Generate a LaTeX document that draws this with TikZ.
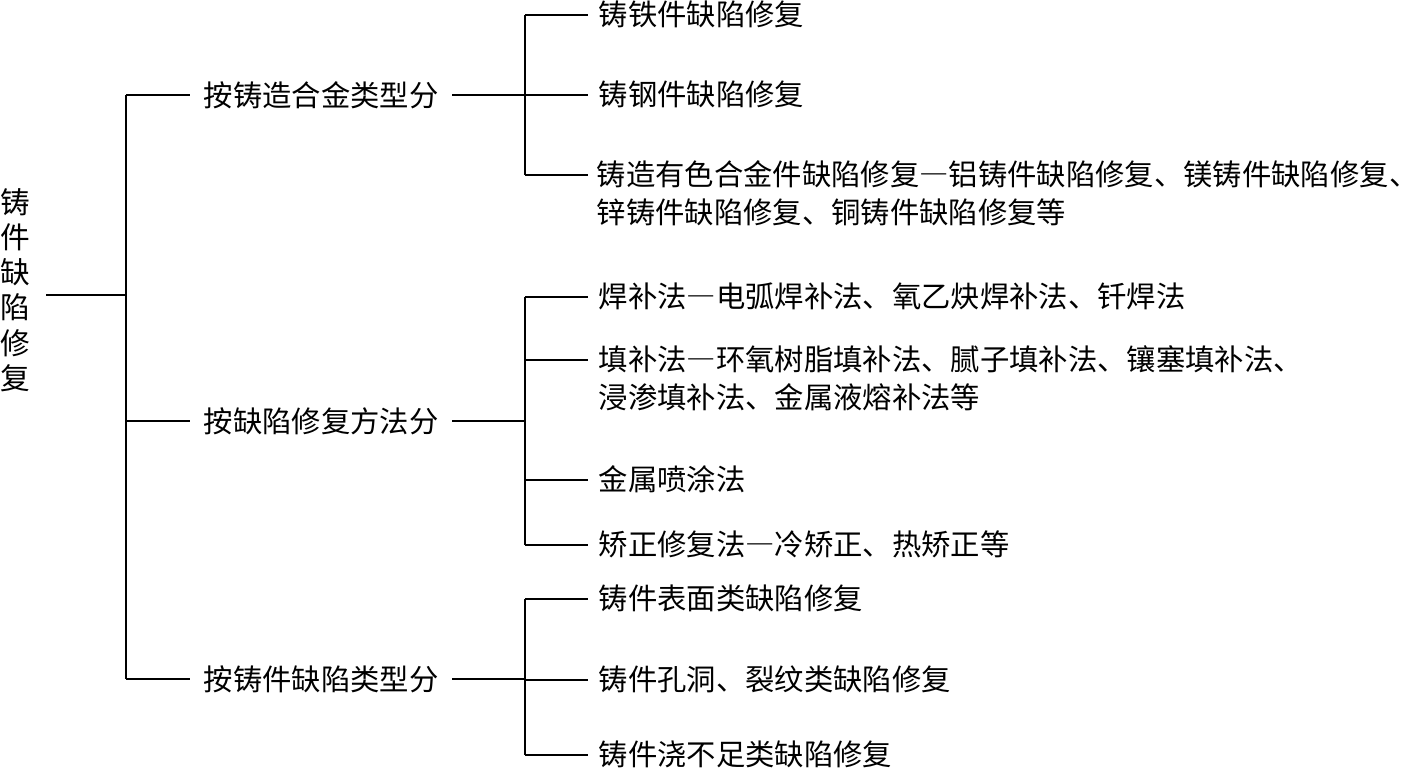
\documentclass[tikz,border=0pt]{standalone}
\usepackage{fontspec}
\setmainfont{Noto Sans CJK SC}
\newcommand{\qd}{{\addfontfeature{RawFeature=+fwid}—}}

\begin{document}
\begin{tikzpicture}[x=0.02cm, y=-0.02cm, line width=0.9pt,
        txt/.style={font=\fontsize{16.7pt}{21.5pt}\selectfont, inner ysep=0pt},
        cls/.style={txt, anchor=west, inner xsep=0.26cm},
        leaf/.style={txt, anchor=north west, yshift=0.3cm, inner xsep=0.2cm, align=left}]
    \useasboundingbox (0, 0) rectangle (1422, 772);

    \node [txt, align=center, inner xsep=0.31cm, font=\fontsize{16.9pt}{20pt}\selectfont]
        (R) at (15, 290) {铸\\件\\缺\\陷\\修\\复};

    \node [cls] (C1) at (190, 95) {按铸造合金类型分};
    \node [cls] (C2) at (190, 421) {按缺陷修复方法分};
    \node [cls] (C3) at (190, 679) {按铸件缺陷类型分};

    \node [leaf] (A1) at (588, 15) {铸铁件缺陷修复};
    \node [leaf] (A2) at (588, 95) {铸钢件缺陷修复};
    \node [leaf, inner xsep=0.16cm] (A3) at (588, 175) {铸造有色合金件缺陷修复\qd 铝铸件缺陷修复、镁铸件缺陷修复、\\锌铸件缺陷修复、铜铸件缺陷修复等};

    \node [leaf] (B1) at (588, 297) {焊补法\qd 电弧焊补法、氧乙炔焊补法、钎焊法};
    \node [leaf] (B2) at (588, 360) {填补法\qd 环氧树脂填补法、腻子填补法、镶塞填补法、\\浸渗填补法、金属液熔补法等};
    \node [leaf] (B3) at (588, 480) {金属喷涂法};
    \node [leaf] (B4) at (588, 545) {矫正修复法\qd 冷矫正、热矫正等};

    \node [leaf] (D1) at (588, 599) {铸件表面类缺陷修复};
    \node [leaf] (D2) at (588, 680) {铸件孔洞、裂纹类缺陷修复};
    \node [leaf] (D3) at (588, 755) {铸件浇不足类缺陷修复};

    \coordinate (T) at (126, 295);
    \coordinate (TA) at (525, 0);

    % trunk
    \draw (R.east |- T) -- (T);
    \draw (T |- C1.west) -- (T |- C3.west);
    \foreach \c in {C1, C2, C3}
        \draw (T |- \c.west) -- (\c.west);

    % branches
    \draw (C1.east) -- (C1.east -| TA);
    \draw (C2.east) -- (C2.east -| TA);
    \draw (C3.east) -- (C3.east -| TA);
    \draw ([yshift=-0.3cm] A1.north west -| TA) -- ([yshift=-0.3cm] A3.north west -| TA);
    \draw ([yshift=-0.3cm] B1.north west -| TA) -- ([yshift=-0.3cm] B4.north west -| TA);
    \draw ([yshift=-0.3cm] D1.north west -| TA) -- ([yshift=-0.3cm] D3.north west -| TA);
    \foreach \n in {A1, A2, A3, B1, B2, B3, B4, D1, D2, D3}
        \draw ([yshift=-0.3cm] \n.north west -| TA) -- ([yshift=-0.3cm] \n.north west);
\end{tikzpicture}
\end{document}
